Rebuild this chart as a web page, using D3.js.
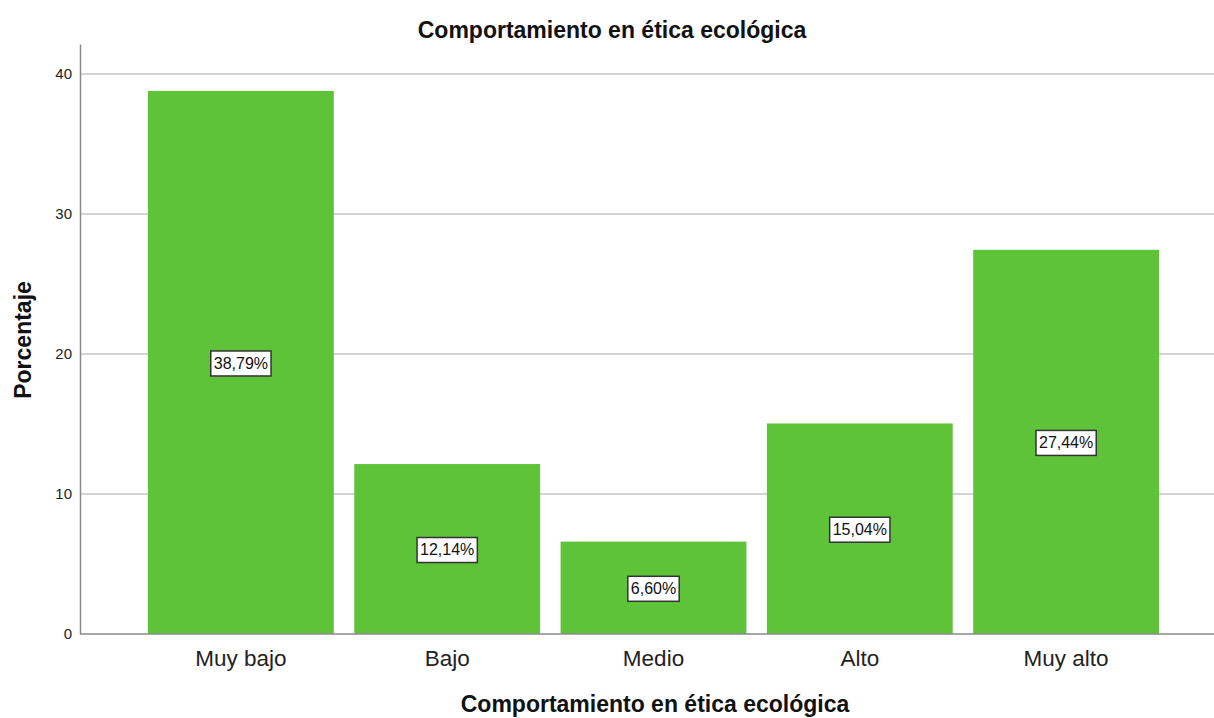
<!DOCTYPE html>
<html><head><meta charset="utf-8">
<script src="https://cdn.jsdelivr.net/npm/d3@7"></script>
<style>body{margin:0;background:#fff;} text{font-family:"Liberation Sans",Arial,sans-serif;}</style>
</head><body>
<svg id="c" width="1214" height="718"></svg>
<script>
const categories = ["Muy bajo","Bajo","Medio","Alto","Muy alto"];
const values = [38.79, 12.14, 6.60, 15.04, 27.44];
const labels = ["38,79%","12,14%","6,60%","15,04%","27,44%"];
const yTicks = [0,10,20,30,40];
const title = "Comportamiento en ética ecológica";
const xTitle = "Comportamiento en ética ecológica";
const yTitle = "Porcentaje";

(function(){
const svg = d3.select("#c");
const mLeft = 80, mRight = 1214, mTop = 44, mBottom = 634;
const x = d3.scaleBand().domain(categories).range([137.75, 1169.25]).paddingInner(0.0993).paddingOuter(0.0496);
const y = d3.scaleLinear().domain([0, 42.143]).range([mBottom, mTop]);

// gridlines
svg.append("g").selectAll("line").data(yTicks.filter(d=>d>0)).join("line")
  .attr("x1", mLeft+1).attr("x2", mRight).attr("y1", d=>y(d)).attr("y2", d=>y(d))
  .attr("stroke", "#d4d4d4").attr("stroke-width", 2);

// bars
svg.append("g").selectAll("rect").data(values).join("rect")
  .attr("x", (d,i)=>x(categories[i])).attr("width", x.bandwidth())
  .attr("y", d=>y(d)).attr("height", d=>mBottom-y(d))
  .attr("fill", "#5fc33a");

// axes
const yAxis = svg.append("g").attr("transform", `translate(${mLeft},0)`)
  .call(d3.axisLeft(y).tickValues(yTicks).tickSize(0).tickPadding(8));
yAxis.select(".domain").attr("stroke", "#8a8a8a").attr("stroke-width", 1.5);
yAxis.selectAll("text").attr("font-size", 15).attr("fill", "#222").attr("font-family", "Liberation Sans, Arial, sans-serif");

const xAxis = svg.append("g").attr("transform", `translate(0,${mBottom})`)
  .call(d3.axisBottom(x).tickSize(0).tickPadding(16));
xAxis.select(".domain").attr("d", `M${mLeft},0H${mRight}`).attr("stroke", "#8a8a8a").attr("stroke-width", 1.5);
xAxis.selectAll("text").attr("font-size", 22.5).attr("fill", "#222").attr("font-family", "Liberation Sans, Arial, sans-serif");

// value labels
const lg = svg.append("g").selectAll("g").data(values).join("g")
  .attr("transform", (d,i)=>`translate(${x(categories[i])+x.bandwidth()/2},${y(d/2)})`);
lg.append("text").attr("text-anchor","middle").attr("dy","0.38em")
  .attr("font-size", 16).attr("fill", "#111").text((d,i)=>labels[i]);
lg.each(function(){
  const g = d3.select(this);
  const bb = g.select("text").node().getBBox();
  g.insert("rect","text").attr("x", bb.x-3).attr("y", -11.5).attr("width", bb.width+6).attr("height", 25)
    .attr("fill", "#fff").attr("stroke", "#333").attr("stroke-width", 1.5);
});

// titles
svg.append("text").attr("x", 612).attr("y", 38).attr("text-anchor","middle")
  .attr("font-size", 23).attr("font-weight","bold").attr("fill","#111").text(title);
svg.append("text").attr("x", 655).attr("y", 712).attr("text-anchor","middle")
  .attr("font-size", 23).attr("font-weight","bold").attr("fill","#111").text(xTitle);
svg.append("text").attr("transform","translate(31,340) rotate(-90)").attr("text-anchor","middle")
  .attr("font-size", 23).attr("font-weight","bold").attr("fill","#111").text(yTitle);
})();
</script>
</body></html>
